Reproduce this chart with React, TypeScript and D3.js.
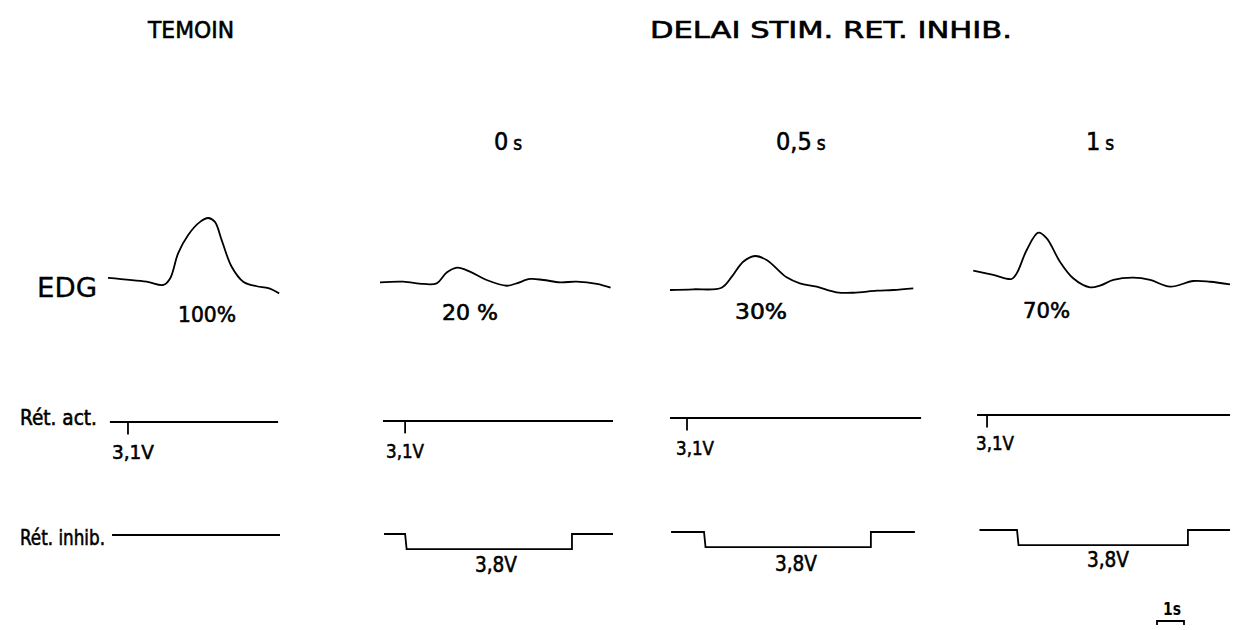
import React from "react";
import * as d3 from "d3";

// ---- data (time in s from panel origin, EDG amplitude in relative units) ----
const panels = ["TEMOIN", "0s", "0,5s", "1s"];
const edgPercent = ["100%", "20 %", "30%", "70%"];

const edgTemoin: [number, number][] = [
  [0.0, 8], [1.43, 2], [2.05, -3], [2.3, 7], [2.6, 46], [2.97, 74], [3.41, 94], [3.71, 100],
  [3.96, 94], [4.21, 66], [4.58, 25], [5.01, 2], [5.51, -5], [5.94, -8], [6.34, -16],
];
const edgDelay0: [number, number][] = [
  [0, 1], [0.86, 2], [1.6, -1.5], [2.1, -0.5], [2.47, 16], [2.86, 23.5], [3.33, 17.4], [3.95, 4.6],
  [4.69, -4.2], [5.06, -0.5], [5.56, 6.2], [6.05, 4.6], [6.67, 1.1], [7.28, 2], [8.03, -1.5], [8.54, -7.2],
];
const edgDelay05: [number, number][] = [
  [0, 0], [0.86, 1.1], [1.91, 3.5], [2.29, 20.5], [2.71, 43.5], [3.15, 52.3], [3.58, 46.2], [4.32, 19.5],
  [4.81, 10.3], [5.43, 5.1], [6.17, -3.5], [6.79, -4.2], [7.66, -1.1], [8.27, 0], [9.01, 2.6],
];
const edgDelay1: [number, number][] = [
  [0.01, 12.8], [0.75, 6.2], [1.43, 0], [1.62, 8.8], [1.99, 44.6], [2.42, 71.2], [2.73, 62.6], [3.22, 26.6],
  [3.71, 1.1], [4.33, -12.8], [4.7, -10.3], [5.2, -1.5], [5.94, 2], [6.56, -1.5], [7.3, -11.8], [8.16, -3.1],
  [8.78, -4.2], [9.52, -8.2],
];
const edgSeries = [edgTemoin, edgDelay0, edgDelay05, edgDelay1];

// Rét. act.: [start, stimulus, end] times, stimulus voltage
const actTimes: [number, number, number][] = [
  [0.07, 0.74, 6.3], [0.11, 0.93, 8.63], [0.0, 0.63, 9.3], [0.15, 0.52, 9.52],
];
const actVolt = 3.1;
const actLabel = "3,1V";
// Rét. inhib.: [start, onset, offset, end]; null onset = no pulse
const inhibTimes: [number, number | null, number | null, number][] = [
  [0.15, null, null, 6.37], [0.15, 0.93, 7.11, 8.63], [0.04, 1.26, 7.44, 9.07], [0.24, 1.63, 7.96, 9.52],
];
const inhibVolt = 3.8;
const inhibLabel = "3,8V";

// ---- layout ----
const W = 1250, H = 630;
const PX_PER_S = 27;
const origins = [108, 380, 670, 973];
const edgBase = [283, 283, 290, 279];
const actY = [422, 421, 418, 415];
const inhY = [535, 534, 532, 530];
const pctPos = [[178, 322, 58], [442, 320, 56], [735, 319, 52], [1023, 318, 47]];
const actLblPos = [[112, 459], [386, 458], [676, 455], [976, 450]];
const inhLblPos = [[475, 572], [775, 571], [1087, 567]];
const FONT = "'DejaVu Sans Condensed', 'Liberation Sans Narrow', 'DejaVu Sans', sans-serif";

export default function App() {
  const ampScale = d3.scaleLinear().domain([0, 100]).range([0, 65]);
  const voltScale = d3.scaleLinear().domain([0, 1]).range([0, 4]);
  const stroke = { stroke: "#000", strokeWidth: 1.8, fill: "none" } as const;

  return (
    <svg width={W} height={H} style={{ position: "absolute", left: 0, top: 0, background: "#fff" }}
      fontFamily={FONT} fill="#000" stroke="#000" strokeWidth={0.55}>
      {/* titles */}
      <text x={148} y={38} fontSize={23} textLength={86} lengthAdjust="spacingAndGlyphs">{panels[0]}</text>
      <text x={650} y={38} fontSize={23} textLength={362} lengthAdjust="spacingAndGlyphs">DELAI  STIM.  RET.  INHIB.</text>
      <text x={494} y={150} fontSize={25}>0<tspan fontSize={19} dx={5}>s</tspan></text>
      <text x={776} y={150} fontSize={25}>0,5<tspan fontSize={19} dx={5}>s</tspan></text>
      <text x={1086} y={150} fontSize={25}>1<tspan fontSize={19} dx={5}>s</tspan></text>

      {/* row labels */}
      <text x={37} y={297} fontSize={26} strokeWidth={0.3} textLength={60} lengthAdjust="spacingAndGlyphs">EDG</text>
      <text x={20} y={425} fontSize={21} textLength={77} lengthAdjust="spacingAndGlyphs">Rét. act.</text>
      <text x={20} y={545} fontSize={21} textLength={85} lengthAdjust="spacingAndGlyphs">Rét. inhib.</text>

      {panels.map((p, i) => {
        const x = d3.scaleLinear().domain([0, 1]).range([origins[i], origins[i] + PX_PER_S]);
        const line = d3.line<[number, number]>()
          .x((d) => x(d[0]))
          .y((d) => edgBase[i] - ampScale(d[1]))
          .curve(d3.curveCatmullRom.alpha(0.5));
        const [as, at, ae] = actTimes[i];
        const [is, ion, ioff, ie] = inhibTimes[i];
        const dy = voltScale(inhibVolt);
        let inhPath = "";
        if (ion === null || ioff === null) {
          inhPath = `M${x(is)},${inhY[i]}H${x(ie)}`;
        } else {
          inhPath = `M${x(is)},${inhY[i]}H${x(ion)}L${x(ion) + 1.5},${inhY[i] + dy}H${x(ioff)}L${x(ioff)},${inhY[i]}H${x(ie)}`;
        }
        return (
          <g key={p}>
            <path d={line(edgSeries[i]) || ""} {...stroke} />
            <text x={pctPos[i][0]} y={pctPos[i][1]} fontSize={21} textLength={pctPos[i][2]}
              lengthAdjust="spacingAndGlyphs">{edgPercent[i]}</text>
            <path d={`M${x(as)},${actY[i]}H${x(ae)}`} {...stroke} />
            <path d={`M${x(at)},${actY[i]}V${actY[i] + voltScale(actVolt)}`} {...stroke} />
            <text x={actLblPos[i][0]} y={actLblPos[i][1]} fontSize={20} textLength={i === 0 ? 42 : 38}
              lengthAdjust="spacingAndGlyphs">{actLabel}</text>
            <path d={inhPath} {...stroke} />
            {i > 0 && (
              <text x={inhLblPos[i - 1][0]} y={inhLblPos[i - 1][1]} fontSize={22} textLength={42}
                lengthAdjust="spacingAndGlyphs">{inhibLabel}</text>
            )}
          </g>
        );
      })}

      {/* scale bar 1 s */}
      {(() => {
        const sx = d3.scaleLinear().domain([0, 1]).range([1157, 1157 + PX_PER_S]);
        return (
          <g>
            <text x={1163} y={615} fontSize={17} fontWeight="bold" strokeWidth={0} textLength={18} lengthAdjust="spacingAndGlyphs">1s</text>
            <path d={`M${sx(0)},625V621H${sx(1)}V625`} {...stroke} />
          </g>
        );
      })()}
    </svg>
  );
}
